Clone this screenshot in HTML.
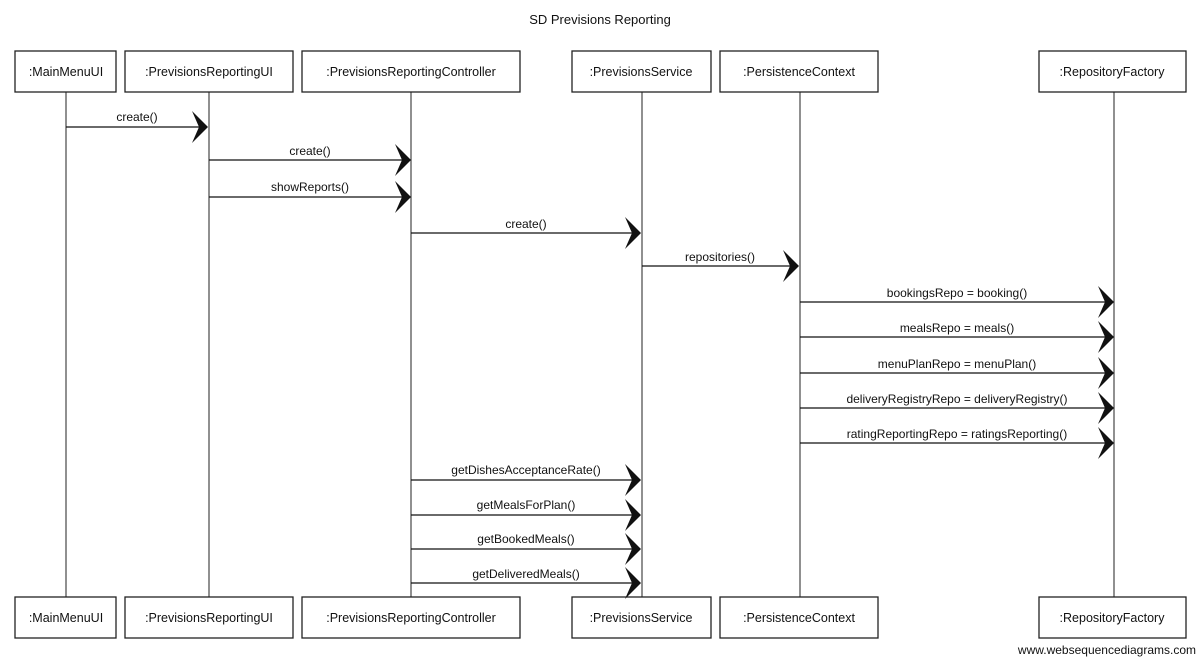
<!DOCTYPE html>
<html><head><meta charset="utf-8"><style>
html,body{margin:0;padding:0;background:#fff;}
svg text{font-family:"Liberation Sans",sans-serif;fill:#111;}
</style></head><body>
<svg width="1200" height="663" viewBox="0 0 1200 663" xmlns="http://www.w3.org/2000/svg">
<text x="600" y="24" font-size="13" text-anchor="middle">SD Previsions Reporting</text>
<g stroke="#222" stroke-width="1" fill="none">
<line x1="66" y1="92" x2="66" y2="597"/>
<line x1="209" y1="92" x2="209" y2="597"/>
<line x1="411" y1="92" x2="411" y2="597"/>
<line x1="642" y1="92" x2="642" y2="597"/>
<line x1="800" y1="92" x2="800" y2="597"/>
<line x1="1114" y1="92" x2="1114" y2="597"/>
</g>
<g stroke="#222" stroke-width="1.3" fill="#fff">
<rect x="15" y="51" width="101" height="41"/>
<rect x="125" y="51" width="168" height="41"/>
<rect x="302" y="51" width="218" height="41"/>
<rect x="572" y="51" width="139" height="41"/>
<rect x="720" y="51" width="158" height="41"/>
<rect x="1039" y="51" width="147" height="41"/>
<rect x="15" y="597" width="101" height="41"/>
<rect x="125" y="597" width="168" height="41"/>
<rect x="302" y="597" width="218" height="41"/>
<rect x="572" y="597" width="139" height="41"/>
<rect x="720" y="597" width="158" height="41"/>
<rect x="1039" y="597" width="147" height="41"/>
</g>
<g font-size="12.5" text-anchor="middle">
<text x="66" y="76">:MainMenuUI</text>
<text x="209" y="76">:PrevisionsReportingUI</text>
<text x="411" y="76">:PrevisionsReportingController</text>
<text x="641" y="76">:PrevisionsService</text>
<text x="799" y="76">:PersistenceContext</text>
<text x="1112" y="76">:RepositoryFactory</text>
<text x="66" y="622">:MainMenuUI</text>
<text x="209" y="622">:PrevisionsReportingUI</text>
<text x="411" y="622">:PrevisionsReportingController</text>
<text x="641" y="622">:PrevisionsService</text>
<text x="799" y="622">:PersistenceContext</text>
<text x="1112" y="622">:RepositoryFactory</text>
</g>
<defs>
<g id="ah"><polygon points="0,0 -16,-16 -9,0 -16,16" fill="#111"/></g>
</defs>
<g stroke="#111" stroke-width="1.3">
<line x1="66" y1="127" x2="206" y2="127"/>
<line x1="209" y1="160" x2="408" y2="160"/>
<line x1="209" y1="197" x2="408" y2="197"/>
<line x1="411" y1="233" x2="639" y2="233"/>
<line x1="642" y1="266" x2="797" y2="266"/>
<line x1="800" y1="302" x2="1111" y2="302"/>
<line x1="800" y1="337" x2="1111" y2="337"/>
<line x1="800" y1="373" x2="1111" y2="373"/>
<line x1="800" y1="408" x2="1111" y2="408"/>
<line x1="800" y1="443" x2="1111" y2="443"/>
<line x1="411" y1="480" x2="639" y2="480"/>
<line x1="411" y1="515" x2="639" y2="515"/>
<line x1="411" y1="549" x2="639" y2="549"/>
<line x1="411" y1="583" x2="639" y2="583"/>
</g>
<use href="#ah" x="208" y="127"/>
<use href="#ah" x="411" y="160"/>
<use href="#ah" x="411" y="197"/>
<use href="#ah" x="641" y="233"/>
<use href="#ah" x="799" y="266"/>
<use href="#ah" x="1114" y="302"/>
<use href="#ah" x="1114" y="337"/>
<use href="#ah" x="1114" y="373"/>
<use href="#ah" x="1114" y="408"/>
<use href="#ah" x="1114" y="443"/>
<use href="#ah" x="641" y="480"/>
<use href="#ah" x="641" y="515"/>
<use href="#ah" x="641" y="549"/>
<use href="#ah" x="641" y="583"/>
<g font-size="12" text-anchor="middle">
<text x="137" y="121">create()</text>
<text x="310" y="155">create()</text>
<text x="310" y="191">showReports()</text>
<text x="526" y="228">create()</text>
<text x="720" y="261">repositories()</text>
<text x="957" y="297">bookingsRepo = booking()</text>
<text x="957" y="332">mealsRepo = meals()</text>
<text x="957" y="368">menuPlanRepo = menuPlan()</text>
<text x="957" y="403">deliveryRegistryRepo = deliveryRegistry()</text>
<text x="957" y="438">ratingReportingRepo = ratingsReporting()</text>
<text x="526" y="474">getDishesAcceptanceRate()</text>
<text x="526" y="509">getMealsForPlan()</text>
<text x="526" y="543">getBookedMeals()</text>
<text x="526" y="578">getDeliveredMeals()</text>
</g>
<text x="1196" y="654" font-size="12" text-anchor="end" fill="#333">www.websequencediagrams.com</text>
</svg>
</body></html>
